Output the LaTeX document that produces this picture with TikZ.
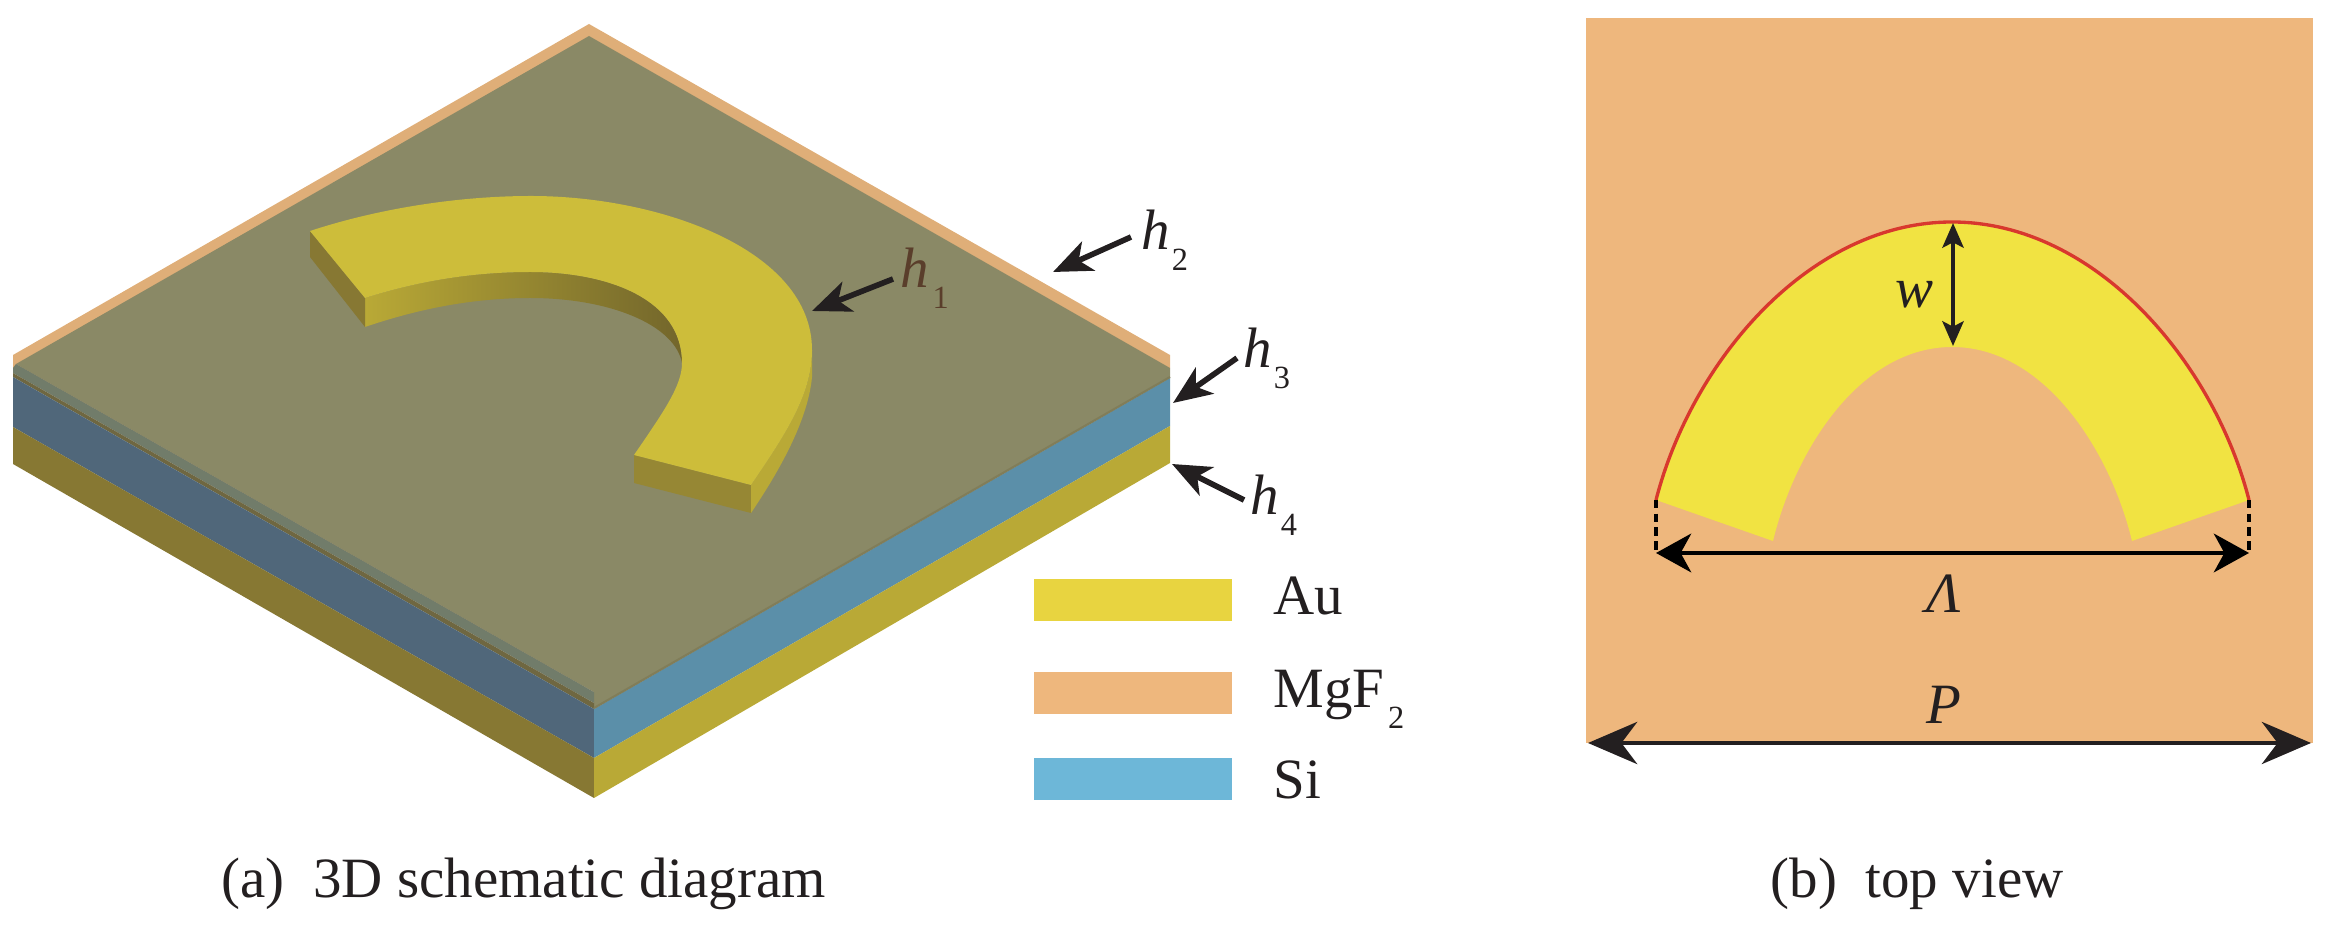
\documentclass[tikz,border=0pt]{standalone}
\usepackage{fontspec}
\setmainfont{Liberation Serif}
\usetikzlibrary{arrows.meta}
\definecolor{cOlive}{HTML}{8A8966}
\definecolor{cOrange}{HTML}{DFAE78}
\definecolor{cBand}{HTML}{717C6A}
\definecolor{cSeam}{HTML}{6F6741}
\definecolor{cSiR}{HTML}{5B8FA9}
\definecolor{cSiL}{HTML}{50677A}
\definecolor{cAuR}{HTML}{B9A936}
\definecolor{cAuL}{HTML}{877833}
\definecolor{cRing}{HTML}{CDBD3A}
\definecolor{cMg}{HTML}{EEB77D}
\definecolor{cYel}{HTML}{F1E342}
\definecolor{cKeyAu}{HTML}{E8D440}
\definecolor{cKeySi}{HTML}{6DB7D8}
\definecolor{cRed}{HTML}{D8382E}
\definecolor{cInk}{HTML}{231F20}
\definecolor{cBrown}{HTML}{5A3E2B}
\newcommand{\bigfont}{\fontsize{16.2}{18}\selectfont}
\newcommand{\subnum}[1]{\raisebox{-5.7pt}{\fontsize{9.2}{10}\selectfont #1}}
\begin{document}
\begin{tikzpicture}[x=0.01cm, y=-0.01cm,
    txt/.style={anchor=base west, inner sep=0pt, font=\bigfont, text=cInk},
    keybox/.style={anchor=north west, inner sep=0pt, minimum width=1.98cm, minimum height=0.42cm},
    harrow/.style={cInk, line width=1.6pt, -{Stealth[length=11pt, width=9pt, inset=3pt]}},
    wline/.style={cInk, line width=1.3pt, {Stealth[length=7pt, width=6pt, inset=1.5pt]}-{Stealth[length=7pt, width=6pt, inset=1.5pt]}},
    lline/.style={black, line width=1.2pt, {Stealth[length=10pt, width=11pt, inset=3pt]}-{Stealth[length=10pt, width=11pt, inset=3pt]}},
    pline/.style={cInk, line width=1.2pt, {Stealth[length=14pt, width=12pt, inset=4.5pt]}-{Stealth[length=14pt, width=12pt, inset=4.5pt]}},
    dashline/.style={black, line width=0.9pt, dash pattern=on 2.4pt off 1.5pt}]
  \useasboundingbox (0,0) rectangle (2339,934);
  % Schichten
  \fill[cOrange] (13,355) -- (589,24) -- (1170,355) -- (1170,368) -- (594,692) -- (13,370) -- cycle;
  \fill[cOlive] (16,364) -- (589,36) -- (1170,368) -- (1170,378) -- (594,709) -- (594,692) -- cycle;
  \fill[cBand] (13,368) -- (16,364) -- (594,692) -- (594,703) -- (13,373) -- cycle;
  \fill[cSeam] (13,373) -- (594,703) -- (594,709) -- (13,377) -- cycle;
  \fill[cSiL] (13,377) -- (594,709) -- (594,758) -- (13,427) -- cycle;
  \fill[cAuL] (13,427) -- (594,758) -- (594,798) -- (13,464) -- cycle;
  \fill[cSiR] (594,709) -- (1170,378) -- (1170,426) -- (594,758) -- cycle;
  \fill[cAuR] (594,758) -- (1170,426) -- (1170,463) -- (594,798) -- cycle;
  \draw[cSeam!35!cOlive, line width=0.6pt] (594,708) -- (1170,377);
  % Ring, Seitenflaechen
  \shade[left color=cAuR, middle color=cAuR!85!black, right color=cAuL!85!black]
    (365,298) .. controls (415,282) and (470,272) .. (530,272)
    .. controls (610,272) and (682,300) .. (682,363)
    .. controls (675,325) and (610,298) .. (530,298)
    .. controls (470,298) and (415,310) .. (365,327) -- cycle;
  \fill[cAuL] (310,231) -- (365,298) -- (365,327) -- (310,257) -- cycle;
  \fill[cAuL!70!cAuR] (634,455) -- (751,485) -- (751,513) -- (634,483) -- cycle;
  \fill[cAuR] (812,350) .. controls (812,395) and (785,435) .. (751,485)
    -- (751,513) .. controls (780,470) and (808,420) .. (812,377) -- cycle;
  % Ring, oben
  \fill[cRing] (310,231) .. controls (380,208) and (460,196) .. (531,196)
    .. controls (660,196) and (812,250) .. (812,350)
    .. controls (812,395) and (785,435) .. (751,485)
    -- (634,455) .. controls (665,410) and (682,385) .. (682,363)
    .. controls (682,300) and (610,272) .. (530,272)
    .. controls (470,272) and (415,282) .. (365,298) -- cycle;
  % Pfeile h
  \coordinate (tipa) at (812,311);
  \coordinate (taila) at (893,279);
  \coordinate (tipb) at (1053,272);
  \coordinate (tailb) at (1131,237);
  \coordinate (tipc) at (1173,403);
  \coordinate (tailc) at (1237,358);
  \coordinate (tipd) at (1172,464);
  \coordinate (taild) at (1244,500);
  \draw[harrow] (taila) -- (tipa);
  \draw[harrow] (tailb) -- (tipb);
  \draw[harrow] (tailc) -- (tipc);
  \draw[harrow] (taild) -- (tipd);
  \node[txt, text=cBrown] (hone) at (900,288) {\textit{h}\hspace{1pt}\subnum{1}};
  \node[txt] (htwo) at (1141,250) {\textit{h}\hspace{0.5pt}\subnum{2}};
  \node[txt] (hthree) at (1243,368) {\textit{h}\hspace{0.5pt}\subnum{3}};
  \node[txt] (hfour) at (1250,515) {\textit{h}\hspace{0.5pt}\subnum{4}};
  % Legende
  \node[keybox, fill=cKeyAu] (keyau) at (1033,578) {};
  \node[keybox, fill=cMg] (keymg) at (1033,671) {};
  \node[keybox, fill=cKeySi] (keysi) at (1033,757) {};
  \node[txt] (textau) at (1273,615) {Au};
  \node[txt] (textmg) at (1273,708) {MgF\hspace{1pt}\subnum{2}};
  \node[txt] (textsi) at (1273,799) {Si};
  \node[txt] (capa) at (221,897) {(a)\ \ 3D schematic diagram};
  % Draufsicht
  \fill[cMg] (1586,18) rectangle (2313,743);
  \fill[cYel] (1656,500) .. controls (1692,360) and (1810,222) .. (1952,222)
    .. controls (2094,222) and (2213,360) .. (2249,500)
    -- (2132,541) .. controls (2110,450) and (2044,347) .. (1952,347)
    .. controls (1860,347) and (1795,450) .. (1773,541) -- cycle;
  \draw[cRed, line width=0.95pt] (1656,500) .. controls (1692,360) and (1810,222) .. (1952,222)
    .. controls (2094,222) and (2213,360) .. (2249,500);
  \coordinate (archl) at (1656,500);
  \coordinate (archr) at (2249,500);
  \coordinate (laml) at (1656,553);
  \coordinate (lamr) at (2249,553);
  \coordinate (wtop) at (1953,223);
  \coordinate (wbot) at (1953,346);
  \coordinate (perl) at (1588,743);
  \coordinate (perr) at (2311,743);
  \draw[dashline] (archl) -- (laml);
  \draw[dashline] (archr) -- (lamr);
  \draw[wline] (wtop) -- (wbot);
  \draw[lline] (laml) -- (lamr);
  \draw[pline] (perl) -- (perr);
  \node[txt] (labw) at (1895,308) {\textit{w}};
  \node[txt] (lablam) at (1926,613) {\textit{Λ}};
  \node[txt] (labp) at (1926,724) {\textit{P}};
  \node[txt] (capb) at (1770,897) {(b)\ \ top view};
\end{tikzpicture}
\end{document}
